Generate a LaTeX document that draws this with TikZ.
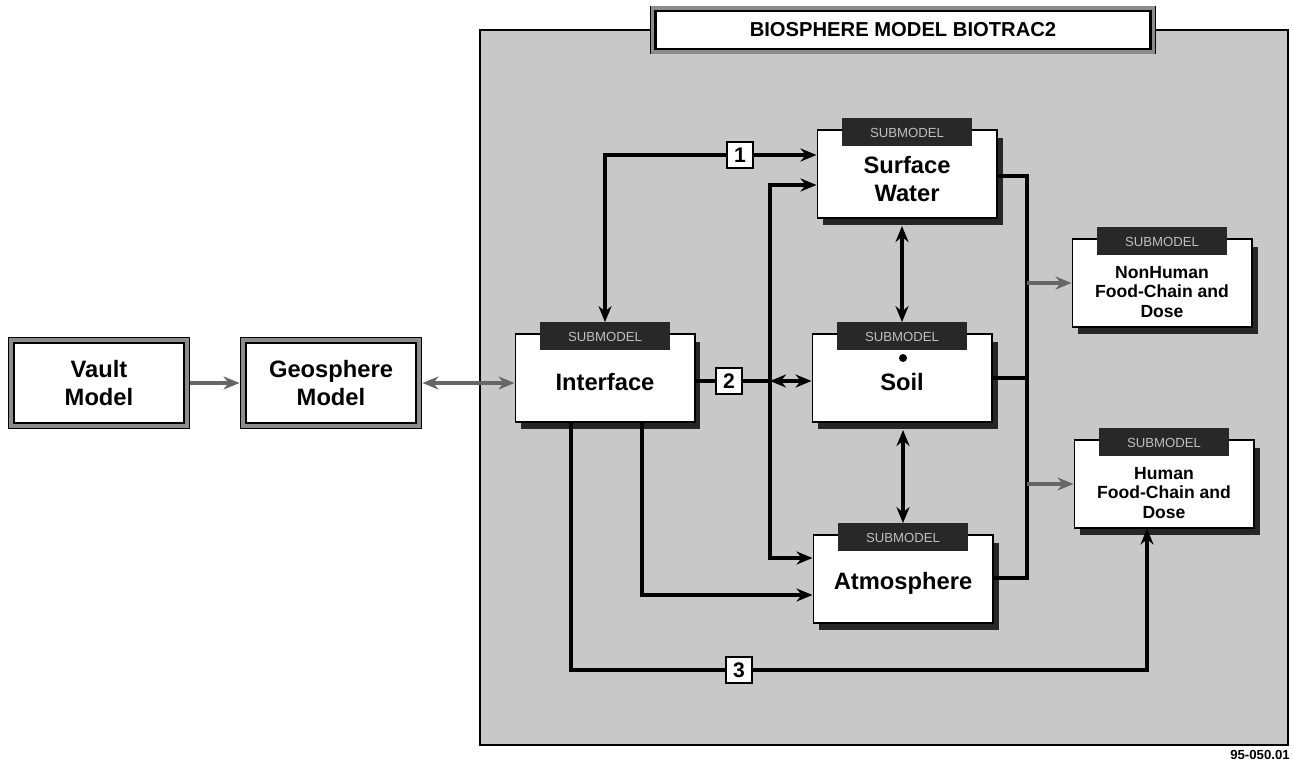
\documentclass[tikz,border=0pt]{standalone}
\usepackage{fontspec}
\setmainfont{Liberation Sans}
\usetikzlibrary{arrows.meta,positioning,calc,shadows}
\definecolor{panelgray}{RGB}{200,200,200}
\definecolor{tabgray}{RGB}{40,40,40}

\begin{document}
\begin{tikzpicture}[x=0.02cm, y=-0.02cm,
  modelbox/.style={draw=black, line width=1.4pt, fill=white, minimum width=3.4cm, minimum height=1.6cm,
    align=center, font=\fontsize{13.5}{15.5}\selectfont\bfseries,
    preaction={draw=black, line width=6.5pt}, preaction={draw=black!45, line width=5.5pt}},
  subbox/.style={draw=black, line width=0.6pt, fill=white, minimum width=3.6cm, minimum height=1.76cm,
    drop shadow={shadow xshift=1.1mm, shadow yshift=-1.5mm, fill=black!85, opacity=1}},
  subtab/.style={fill=tabgray, minimum width=2.6cm, minimum height=0.56cm, inner sep=0pt,
    text=black!25, font=\fontsize{7.5}{8}\selectfont},
  boxlabel/.style={align=center, font=\fontsize{13.5}{16}\selectfont\bfseries},
  smalllabel/.style={align=center, font=\fontsize{10}{11.3}\selectfont\bfseries},
  numbox/.style={draw=black, line width=1.2pt, fill=white, minimum size=0.52cm, inner sep=0pt,
    font=\fontsize{12}{12}\selectfont\bfseries},
  flow/.style={line width=2.3pt, black},
  arr/.style={flow, -{Stealth[length=3.2mm,width=2.6mm]}},
  biarr/.style={flow, {Stealth[length=3.2mm,width=2.6mm]}-{Stealth[length=3.2mm,width=2.6mm]}},
  softarr/.style={line width=2.3pt, black!60, -{Stealth[length=3.2mm,width=2.6mm]}},
  softbiarr/.style={line width=2.3pt, black!60, {Stealth[length=3.2mm,width=2.6mm]}-{Stealth[length=3.2mm,width=2.6mm]}}
]
\useasboundingbox (0,0) rectangle (1293,760);

% biosphere panel
\node[fill=panelgray, draw=black, line width=0.8pt, inner sep=0pt, outer sep=0pt,
  minimum width=16.16cm, minimum height=14.3cm, anchor=north west] (panel) at (480,30) {};
\node[modelbox, minimum width=9.9cm, minimum height=0.75cm, font=\fontsize{11.5}{12}\selectfont\bfseries]
  (title) at (903,30) {BIOSPHERE MODEL BIOTRAC2};
\node[font=\fontsize{7.5}{8}\selectfont\bfseries, anchor=north east, inner sep=0pt] (tag) at (1290,750) {95-050.01};

% outer models
\node[modelbox] (vault) at (99,383) {Vault\\Model};
\node[modelbox] (geo) at (331,383) {Geosphere\\Model};

% submodels
\node[subbox] (iface) at (605,378) {};
\node[subtab] (ifacetab) at ($(iface.north)+(0,3)$) {SUBMODEL};
\node[boxlabel] (ifacetxt) at ($(iface.center)+(0,4)$) {Interface};

\node[subbox] (sw) at (907,174) {};
\node[subtab] (swtab) at ($(sw.north)+(0,3)$) {SUBMODEL};
\node[boxlabel] (swtxt) at ($(sw.center)+(0,5)$) {Surface\\Water};

\node[subbox] (soil) at (902,378) {};
\node[subtab] (soiltab) at ($(soil.north)+(0,3)$) {SUBMODEL};
\node[boxlabel] (soiltxt) at ($(soil.center)+(0,4)$) {Soil};
\node[circle, fill=black, inner sep=0pt, minimum size=1.6mm] (soildot) at (903,358) {};

\node[subbox] (atm) at (903,579) {};
\node[subtab] (atmtab) at ($(atm.north)+(0,3)$) {SUBMODEL};
\node[boxlabel] (atmtxt) at ($(atm.center)+(0,4)$) {Atmosphere};

\node[subbox] (nonhuman) at (1162,283) {};
\node[subtab] (nonhumantab) at ($(nonhuman.north)+(0,3)$) {SUBMODEL};
\node[smalllabel] (nonhumantxt) at ($(nonhuman.center)+(0,9)$) {NonHuman\\Food-Chain and\\Dose};

\node[subbox] (human) at (1164,484) {};
\node[subtab] (humantab) at ($(human.north)+(0,3)$) {SUBMODEL};
\node[smalllabel] (humantxt) at ($(human.center)+(0,9)$) {Human\\Food-Chain and\\Dose};

% pathway numbers
\node[numbox] (b1) at (740,155) {1};
\node[numbox] (b2) at (729,381) {2};
\node[numbox] (b3) at (739,670) {3};

% vault -> geosphere <-> interface
\draw[softarr, shorten <=3pt, shorten >=3pt] (vault) -- (geo);
\draw[softbiarr, shorten <=3pt] (geo.east) -- (geo.east -| iface.west);

% pathway 1
\draw[arr] (b1.west) -| (ifacetab.north);
\draw[arr] (b1.east) -- (b1.east -| sw.west);

% pathway 2
\coordinate (jn) at (770,381);
\draw[flow] (b2.west -| iface.east) -- (b2.west);
\draw[flow] (b2.east) -- (jn);
\draw[biarr] (jn) -- (jn -| soil.west);
\draw[arr] (jn) |- ($(sw.west)+(0,11)$);
\draw[arr] (jn) |- ($(atm.west)+(0,-21)$);

% interface -> atmosphere
\draw[arr] ($(iface.south)+(37,0)$) |- ($(atm.west)+(0,16)$);

% pathway 3
\draw[flow] ($(iface.south)+(-34,0)$) |- (b3.west);
\draw[arr] (b3.east) -| ($(human.south)+(-17,0)$);

% exchanges between media
\draw[biarr, shorten <=1.5mm] (soiltab.north |- sw.south) -- (soiltab.north);
\draw[biarr, shorten <=1.5mm] (atmtab.north |- soil.south) -- (atmtab.north);

% collector to food chains
\coordinate (ctop) at (1027,176);
\coordinate (cbot) at (1027,578);
\draw[flow] (ctop -| sw.east) -- (ctop) -- (cbot) -- (cbot -| atm.east);
\draw[flow] (soil.east) -- (soil.east -| ctop);
\draw[softarr] (ctop |- nonhuman.west) -- (nonhuman.west);
\draw[softarr] (ctop |- human.west) -- (human.west);
\end{tikzpicture}
\end{document}
